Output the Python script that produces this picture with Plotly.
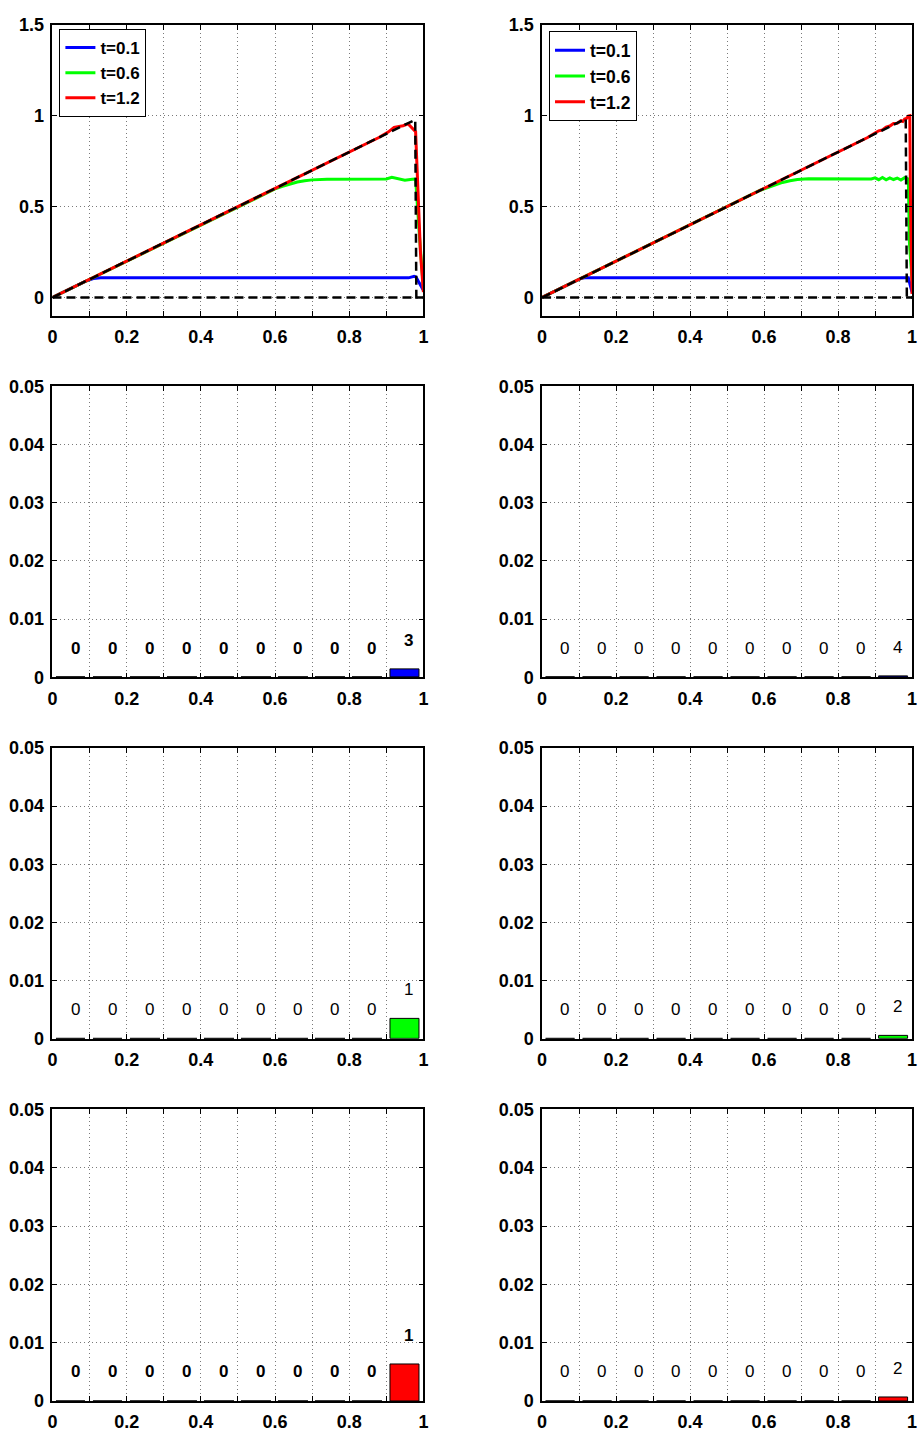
import plotly.graph_objects as go

# ---------------- data ----------------
# top-left panel (coarse grid)
L_blue_x = [0, 0.09, 0.11, 0.13, 0.96, 0.975, 0.98, 1.0]
L_blue_y = [0, 0.09, 0.104, 0.108, 0.108, 0.116, 0.113, 0.04]
L_green_x = [0, 0.58, 0.60, 0.62, 0.64, 0.66, 0.68, 0.70, 0.74, 0.90, 0.915, 0.93, 0.95, 0.97, 0.979, 0.99, 1.0]
L_green_y = [0, 0.58, 0.597, 0.612, 0.625, 0.635, 0.642, 0.647, 0.651, 0.652, 0.661, 0.655, 0.645, 0.651, 0.652, 0.32, 0.05]
L_red_x = [0, 0.88, 0.905, 0.921, 0.945, 0.959, 0.979, 0.992, 1.0]
L_red_y = [0, 0.88, 0.91, 0.936, 0.945, 0.955, 0.912, 0.25, 0.03]
L_exact_x = [0, 0.978, 0.981, 1.0]
L_exact_y = [0, 0.978, 0.0, 0.0]

# top-right panel (fine grid)
R_blue_x = [0, 0.105, 0.115, 0.99, 1.0]
R_blue_y = [0, 0.105, 0.108, 0.108, 0.03]
R_green_x = [0, 0.59, 0.61, 0.63, 0.65, 0.67, 0.69, 0.72, 0.88, 0.89, 0.90, 0.91, 0.92, 0.93, 0.94, 0.95,
             0.96, 0.97, 0.98, 0.99, 0.993, 1.0]
R_green_y = [0, 0.59, 0.605, 0.62, 0.633, 0.642, 0.649, 0.653, 0.655, 0.652, 0.658, 0.648, 0.66, 0.647, 0.658,
             0.649, 0.657, 0.646, 0.659, 0.652, 0.3, 0.1]
R_red_x = [0, 0.88, 0.90, 0.91, 0.92, 0.93, 0.94, 0.95, 0.96, 0.97, 0.975, 0.98, 0.985, 0.99, 0.994, 0.996, 1.0]
R_red_y = [0, 0.88, 0.905, 0.917, 0.922, 0.937, 0.943, 0.957, 0.958, 0.972, 0.968, 0.982, 0.985, 0.998, 1.0, 0.5, 0.02]
R_exact_x = [0, 0.983, 0.986, 1.0]
R_exact_y = [0, 0.983, 0.0, 0.0]

zero_x = [0, 1]
zero_y = [0, 0]

series_names = ["t=0.1", "t=0.6", "t=1.2"]
series_colors = ["#0000ff", "#00ff00", "#ff0000"]

# histogram panels
bin_centers = [0.05, 0.15, 0.25, 0.35, 0.45, 0.55, 0.65, 0.75, 0.85, 0.95]
left_heights = [
    [0, 0, 0, 0, 0, 0, 0, 0, 0, 0.0013],
    [0, 0, 0, 0, 0, 0, 0, 0, 0, 0.0034],
    [0, 0, 0, 0, 0, 0, 0, 0, 0, 0.0063],
]
right_heights = [
    [0, 0, 0, 0, 0, 0, 0, 0, 0, 0.0001],
    [0, 0, 0, 0, 0, 0, 0, 0, 0, 0.0005],
    [0, 0, 0, 0, 0, 0, 0, 0, 0, 0.0006],
]
left_counts = [
    [0, 0, 0, 0, 0, 0, 0, 0, 0, 3],
    [0, 0, 0, 0, 0, 0, 0, 0, 0, 1],
    [0, 0, 0, 0, 0, 0, 0, 0, 0, 1],
]
right_counts = [
    [0, 0, 0, 0, 0, 0, 0, 0, 0, 4],
    [0, 0, 0, 0, 0, 0, 0, 0, 0, 2],
    [0, 0, 0, 0, 0, 0, 0, 0, 0, 2],
]

x_tickvals = [0, 0.1, 0.2, 0.3, 0.4, 0.5, 0.6, 0.7, 0.8, 0.9, 1.0]
x_ticktext = ["0", "", "0.2", "", "0.4", "", "0.6", "", "0.8", "", "1"]
top_y_tickvals = [0, 0.5, 1, 1.5]
top_y_ticktext = ["0", "0.5", "1", "1.5"]
bar_y_tickvals = [0, 0.01, 0.02, 0.03, 0.04, 0.05]
bar_y_ticktext = ["0", "0.01", "0.02", "0.03", "0.04", "0.05"]

# ---------------- layout geometry ----------------
W, H = 919, 1437
col_px = [(48, 423), (543, 917)]
row_px = [(15, 310), (381.7, 676.7), (748.3, 1043.3), (1115, 1410.7)]

FONT = "Liberation Sans, Arial, Helvetica, sans-serif"

fig = go.Figure()

def ax_id(r, c):
    return r * 2 + c + 1

layout = dict(
    width=W, height=H, margin=dict(l=0, r=0, t=0, b=0),
    paper_bgcolor="white", plot_bgcolor="white",
    font=dict(family=FONT, size=18, color="black", weight="bold"),
    bargap=0,
)

for r in range(4):
    for c in range(2):
        n = ax_id(r, c)
        xs = "" if n == 1 else str(n)
        x0, x1 = col_px[c]
        y0, y1 = row_px[r]
        common = dict(
            showline=True, linecolor="black", linewidth=1.5, mirror="ticks",
            ticks="inside", ticklen=5, tickcolor="black", tickwidth=1,
            showgrid=True, gridcolor="#7a7a7a", gridwidth=1, griddash="1px,3px",
            zeroline=False, fixedrange=True,
            tickfont=dict(family=FONT, size=18, color="black", weight="bold"),
        )
        layout["xaxis" + xs] = dict(
            common, domain=[x0 / W, x1 / W], anchor="y" + xs, range=[0, 1],
            tickmode="array", tickvals=x_tickvals, ticktext=x_ticktext,
            ticklabelstandoff=4,
        )
        if r == 0:
            yr, tv, tt = [-0.1, 1.5], top_y_tickvals, top_y_ticktext
        else:
            yr, tv, tt = [0, 0.05], bar_y_tickvals, bar_y_ticktext
        layout["yaxis" + xs] = dict(
            common, domain=[1 - y1 / H, 1 - y0 / H], anchor="x" + xs, range=yr,
            tickmode="array", tickvals=tv, ticktext=tt, ticklabelstandoff=3,
        )

# ---------------- top panels ----------------
tops = [
    ([L_blue_x, L_green_x, L_red_x], [L_blue_y, L_green_y, L_red_y], L_exact_x, L_exact_y, "legend"),
    ([R_blue_x, R_green_x, R_red_x], [R_blue_y, R_green_y, R_red_y], R_exact_x, R_exact_y, "legend2"),
]
for c, (xs_list, ys_list, ex, ey, leg) in enumerate(tops):
    n = ax_id(0, c)
    s = "" if n == 1 else str(n)
    for name, col, xx, yy in zip(series_names, series_colors, xs_list, ys_list):
        fig.add_trace(go.Scatter(x=xx, y=yy, mode="lines", name=name, legend=leg,
                                 line=dict(color=col, width=3), xaxis="x" + s, yaxis="y" + s))
    fig.add_trace(go.Scatter(x=ex, y=ey, mode="lines", showlegend=False,
                             line=dict(color="black", width=2.5, dash="9px,5px"), xaxis="x" + s, yaxis="y" + s))
    fig.add_trace(go.Scatter(x=zero_x, y=zero_y, mode="lines", showlegend=False,
                             line=dict(color="black", width=2.5, dash="9px,5px"), xaxis="x" + s, yaxis="y" + s))

# ---------------- histogram panels ----------------
annotations = []
text_bold = {(1, 0): True, (2, 0): False, (3, 0): True, (1, 1): False, (2, 1): False, (3, 1): False}
for c, (hs, cs) in enumerate([(left_heights, left_counts), (right_heights, right_counts)]):
    for k in range(3):
        r = k + 1
        n = ax_id(r, c)
        s = str(n)
        fig.add_trace(go.Bar(x=bin_centers, y=hs[k], width=0.08, showlegend=False,
                             marker=dict(color=series_colors[k], line=dict(color="black", width=1)),
                             xaxis="x" + s, yaxis="y" + s))
        for xc, h, cnt in zip(bin_centers, hs[k], cs[k]):
            annotations.append(dict(
                x=xc + 0.011, y=h + 0.005, xref="x" + s, yref="y" + s, text=str(cnt),
                showarrow=False, xanchor="center", yanchor="middle",
                font=dict(family=FONT, size=17, color="black",
                          weight=("bold" if text_bold[(r, c)] else "normal")),
            ))

layout["annotations"] = annotations
layout["legend"] = dict(x=55 / W, y=1 - 19.3 / H, xanchor="left", yanchor="top",
                        bgcolor="white", bordercolor="black", borderwidth=1,
                        font=dict(family=FONT, size=17, color="black", weight="bold"))
layout["legend2"] = dict(x=550 / W, y=1 - 21.7 / H, xanchor="left", yanchor="top",
                         bgcolor="white", bordercolor="black", borderwidth=1,
                         font=dict(family=FONT, size=17.5, color="black", weight="bold"))

fig.update_layout(**layout)
fig.write_html("out.html", post_script="document.body.style.margin='0';")
